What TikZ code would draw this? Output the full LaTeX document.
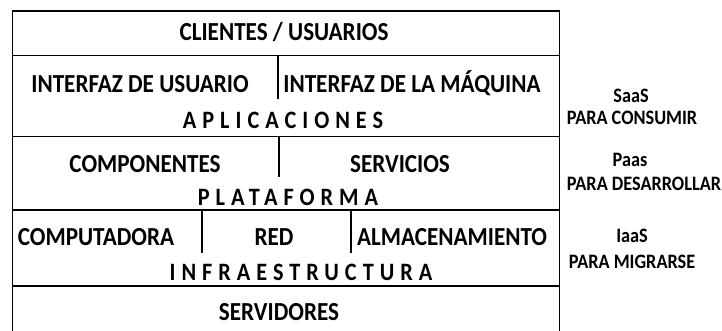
\documentclass[tikz,border=0pt]{standalone}
\usepackage{fontspec}
\setmainfont[FakeStretch=0.89]{Carlito}
\begin{document}
\begin{tikzpicture}[x=1pt,y=-1pt,
  lbl/.style={font=\bfseries\fontsize{26}{28}\selectfont, inner sep=0pt, anchor=base},
  spaced/.style={font=\bfseries\fontsize{25}{27}\selectfont\addfontfeature{LetterSpace=24}, inner sep=0pt, anchor=base},
  side/.style={font=\bfseries\fontsize{20.5}{22}\selectfont, inner sep=0pt, anchor=base},
  frame/.style={line width=1.7pt, black}]
\useasboundingbox (0,0) rectangle (722,330);
% outer frame
\draw[frame] (12.5,331) -- (12.5,11) -- (559.5,11) -- (559.5,331);
\foreach \yy in {55.5,136.5,210,286} \draw[frame] (12.5,\yy) -- (559.5,\yy);
% dividers
\draw[frame] (278,55.5) -- (278,99);
\draw[frame] (279,136.5) -- (279,177);
\draw[frame] (202,210) -- (202,253);
\draw[frame] (351,210) -- (351,253);
% texts
\node[lbl] (cli) at (284,40) {CLIENTES / USUARIOS};
\node[lbl] (iu) at (140,92) {INTERFAZ DE USUARIO};
\node[lbl] (im) at (412,92) {INTERFAZ DE LA MÁQUINA};
\node[spaced] (apl) at (283,128) {APLICACIONES};
\node[lbl] (comp) at (145,172) {COMPONENTES};
\node[lbl] (serv) at (400,172) {SERVICIOS};
\node[spaced] (pla) at (288,205) {PLATAFORMA};
\node[lbl] (cmp) at (96,245) {COMPUTADORA};
\node[lbl] (red) at (274,245) {RED};
\node[lbl] (alm) at (452,245) {ALMACENAMIENTO};
\node[spaced] (inf) at (301,280) {INFRAESTRUCTURA};
\node[lbl] (srv) at (279,320) {SERVIDORES};
% side labels
\node[side] (saas) at (631,102) {SaaS};
\node[side] (pc) at (632,124) {PARA CONSUMIR};
\node[side] (paas) at (630,166) {Paas};
\node[side] (pd) at (644,190) {PARA DESARROLLAR};
\node[side] (iaas) at (632,242) {IaaS};
\node[side] (pm) at (632,268) {PARA MIGRARSE};
\end{tikzpicture}
\end{document}
